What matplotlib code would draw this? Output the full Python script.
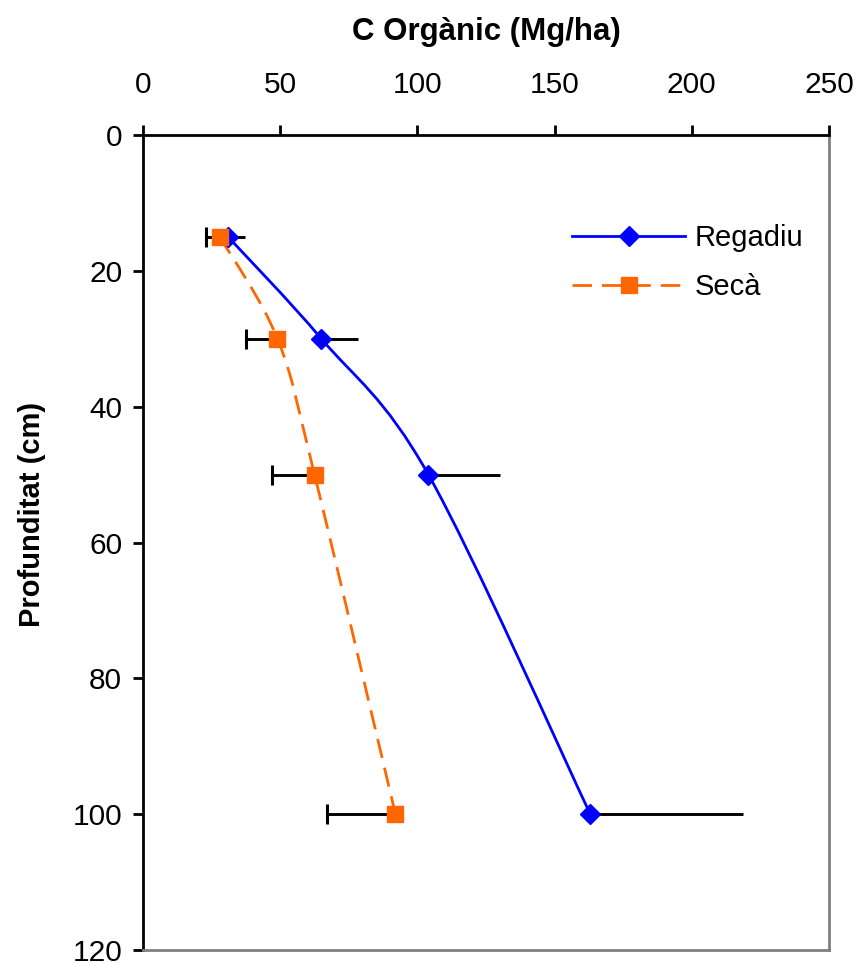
import numpy as np
import matplotlib
matplotlib.use("Agg")
import matplotlib.pyplot as plt
from matplotlib.path import Path
from matplotlib.patches import PathPatch

# ---- data ----
depth = [15, 30, 50, 100]
regadiu = [31, 65, 104, 163]
seca = [28, 49, 62.5, 92]
regadiu_err_hi = [6, 13.5, 26, 55.5]
seca_err_lo = [5, 11.5, 15.5, 25]
xticks = [0, 50, 100, 150, 200, 250]
yticks = [0, 20, 40, 60, 80, 100, 120]

plt.rcParams['font.family'] = ['Liberation Sans', 'DejaVu Sans']

fig = plt.figure(figsize=(8.59, 9.63), dpi=100)
ax = fig.add_axes([143/859, 1-950/963, (829-143)/859, (950-135)/963])
ax.set_xlim(0, 250)
ax.set_ylim(120, 0)


def smooth_path(xs, ys):
    # Catmull-Rom style bezier (like Excel smoothed lines) computed in display space
    pts = ax.transData.transform(np.column_stack([xs, ys]))
    n = len(pts)
    verts = [pts[0]]
    codes = [Path.MOVETO]
    for i in range(n - 1):
        p0 = pts[i - 1] if i > 0 else pts[i]
        p1 = pts[i]
        p2 = pts[i + 1]
        p3 = pts[i + 2] if i + 2 < n else pts[i + 1]
        c1 = p1 + (p2 - p0) / 6.0
        c2 = p2 - (p3 - p1) / 6.0
        verts += [c1, c2, p2]
        codes += [Path.CURVE4] * 3
    return Path(verts, codes)


fig.canvas.draw()

# error bars
ax.errorbar(regadiu, depth, xerr=[[0]*4, regadiu_err_hi], fmt='none',
            ecolor='black', elinewidth=2.1, capsize=0, zorder=2)
ax.errorbar(seca, depth, xerr=[seca_err_lo, [0]*4], fmt='none',
            ecolor='black', elinewidth=2.1, capsize=0, zorder=2)
ax.plot(np.array(seca) - np.array(seca_err_lo), depth, linestyle='none',
        marker='|', markersize=14, markeredgewidth=2.2, color='black', zorder=2)

# smoothed lines
p1 = PathPatch(smooth_path(regadiu, depth), transform=None, fill=False,
               edgecolor='#0000FF', linewidth=2, zorder=3)
ax.add_artist(p1)
p2 = PathPatch(smooth_path(seca, depth), transform=None, fill=False,
               edgecolor='#FF6600', linewidth=2, linestyle=(0, (7, 3.6)), zorder=3)
ax.add_artist(p2)

# markers
ax.plot(regadiu, depth, linestyle='none', marker='D', markersize=10.5,
        color='#0000FF', zorder=4)
ax.plot(seca, depth, linestyle='none', marker='s', markersize=11.5,
        color='#FF6600', zorder=5)

# legend handles
h1, = ax.plot([], [], color='#0000FF', linewidth=2, marker='D', markersize=10.5)
h2, = ax.plot([], [], color='#FF6600', linewidth=2, linestyle=(0, (7, 3.6)),
              marker='s', markersize=11.5)
leg = ax.legend([h1, h2], ['Regadiu', 'Secà'], loc='upper left',
                bbox_to_anchor=(0.609, 0.905), frameon=False, fontsize=21,
                handlelength=3.85, handletextpad=0.35, labelspacing=0.72,
                borderaxespad=0)

ax.xaxis.set_ticks_position('top')
ax.xaxis.set_label_position('top')
ax.set_xticks(xticks)
ax.set_yticks(yticks)
ax.tick_params(axis='both', direction='out', length=7, width=2, labelsize=21.5,
               colors='black')
ax.tick_params(axis='x', pad=19)
ax.tick_params(axis='y', pad=8)

for s in ['top', 'left']:
    ax.spines[s].set_linewidth(2)
    ax.spines[s].set_color('black')
for s in ['bottom', 'right']:
    ax.spines[s].set_linewidth(2)
    ax.spines[s].set_color('#808080')

ax.set_xlabel('C Orgànic (Mg/ha)', fontsize=22.5, fontweight='bold')
ax.xaxis.set_label_coords(0.5, 1 + (135 - 40) / 815)
ax.set_ylabel('Profunditat (cm)', fontsize=21, fontweight='bold')
ax.yaxis.set_label_coords(-0.141, 0.535)

fig.savefig('out.png', dpi=100)
